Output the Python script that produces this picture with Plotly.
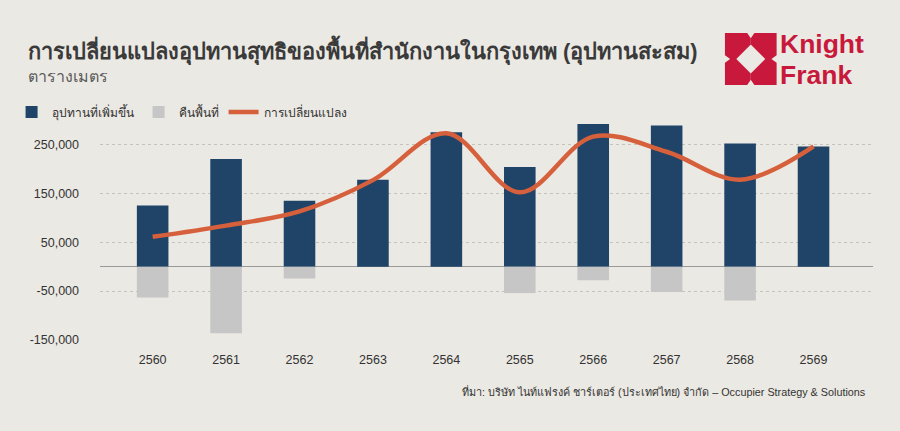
import plotly.graph_objects as go

# ข้อมูล (ตารางเมตร)
years = ["2560", "2561", "2562", "2563", "2564", "2565", "2566", "2567", "2568", "2569"]
new_supply = [125000, 220000, 135000, 178000, 275000, 204000, 292000, 289000, 252000, 246000]
withdrawn = [-63000, -136000, -24000, 0, 0, -54000, -28000, -52000, -69000, 0]
net_change = [61000, 84000, 113000, 177000, 273000, 152000, 266000, 235000, 178000, 246000]

y_tickvals = [250000, 150000, 50000, -50000, -150000]
y_ticktext = ["250,000", "150,000", "50,000", "-50,000", "-150,000"]

BG = "#ebe9e3"
NAVY = "#1f4468"
GREY = "#c6c6c6"
ORANGE = "#d65f3c"
RED = "#c8193c"

# plot area in pixels
L, R, T, B = 95, 873, 120, 340
W, H = 900, 431


def px(x):
    return (x - L) / (R - L)


def py(y):
    return (B - y) / (B - T)


xs = list(range(len(years)))

fig = go.Figure()
fig.add_trace(go.Bar(x=xs, y=new_supply, name="อุปทานที่เพิ่มขึ้น",
                     marker=dict(color=NAVY, line=dict(width=0)), width=0.43))
fig.add_trace(go.Bar(x=xs, y=withdrawn, name="คืนพื้นที่",
                     marker=dict(color=GREY, line=dict(width=0)), width=0.43))
fig.add_trace(go.Scatter(x=xs, y=net_change, name="การเปลี่ยนแปลง", mode="lines",
                         line=dict(color=ORANGE, width=4.5, shape="spline", smoothing=1.0)))

# โลโก้ Knight Frank
x0, y0, s = 724, 33, 52
piece = [(0, 0), (0.43, 0), (0.5, 0.1), (0.5, 0.22), (0.22, 0.5), (0.1, 0.5), (0, 0.43)]
shapes = []
for sx, sy in [(1, 1), (-1, 1), (1, -1), (-1, -1)]:
    pts = []
    for u, v in piece:
        uu = u if sx == 1 else 1 - u
        vv = v if sy == 1 else 1 - v
        pts.append((px(x0 + uu * s), py(y0 + vv * s)))
    path = "M" + " L".join(f"{a:.5f},{b:.5f}" for a, b in pts) + " Z"
    shapes.append(dict(type="path", path=path, xref="paper", yref="paper",
                       fillcolor=RED, line=dict(width=0), layer="above"))

annotations = [
    dict(text="<b>การเปลี่ยนแปลงอุปทานสุทธิของพื้นที่สำนักงานในกรุงเทพ (อุปทานสะสม)</b>",
         x=px(21), y=py(50), xanchor="left", yanchor="middle",
         font=dict(size=21.8, color="#3a3a3a")),
    dict(text="ตารางเมตร", x=px(21), y=py(77), xanchor="left", yanchor="middle",
         font=dict(size=16, color="#5a5a5a")),
    dict(text="ที่มา: บริษัท ไนท์แฟรงค์ ชาร์เตอร์ (ประเทศไทย) จำกัด – Occupier Strategy & Solutions",
         x=px(868), y=py(391), xanchor="right", yanchor="middle",
         font=dict(size=10.8, color="#333333")),
    dict(text="<b>Knight</b>", x=px(777), y=py(44.5), xanchor="left", yanchor="middle",
         font=dict(size=26.5, color=RED, family="Liberation Sans, Arial")),
    dict(text="<b>Frank</b>", x=px(777), y=py(74.5), xanchor="left", yanchor="middle",
         font=dict(size=26.5, color=RED, family="Liberation Sans, Arial")),
]
for a in annotations:
    a.update(xref="paper", yref="paper", showarrow=False)

fig.update_layout(
    width=W, height=H,
    margin=dict(l=L, r=W - R, t=T, b=H - B, pad=0),
    paper_bgcolor=BG, plot_bgcolor=BG,
    barmode="relative",
    font=dict(family="Liberation Sans, Arial, sans-serif", color="#333333", size=12),
    showlegend=True,
    legend=dict(orientation="h", xref="paper", yref="paper",
                x=px(6), y=py(112), xanchor="left", yanchor="middle",
                font=dict(size=12, color="#333333"), bgcolor="rgba(0,0,0,0)",
                traceorder="normal", itemwidth=30),
    shapes=shapes,
    annotations=annotations,
)
fig.update_xaxes(range=[-0.717, 9.81], tickvals=xs, ticktext=years, showgrid=False,
                 zeroline=False, showline=False, ticks="", tickfont=dict(size=12.5),
                 ticklabelstandoff=10)
fig.update_yaxes(range=[-150000, 300000], tickvals=y_tickvals, ticktext=y_ticktext,
                 showgrid=True, gridcolor="#c4c2bc", griddash="dot", gridwidth=1,
                 zeroline=True, zerolinecolor="#9a9a9a", zerolinewidth=1,
                 showline=False, ticks="", tickfont=dict(size=12.5),
                 ticklabelstandoff=20)

fig.write_html("out.html", config={"displayModeBar": False},
               post_script="document.body.style.margin='0';document.body.style.overflow='hidden';")
